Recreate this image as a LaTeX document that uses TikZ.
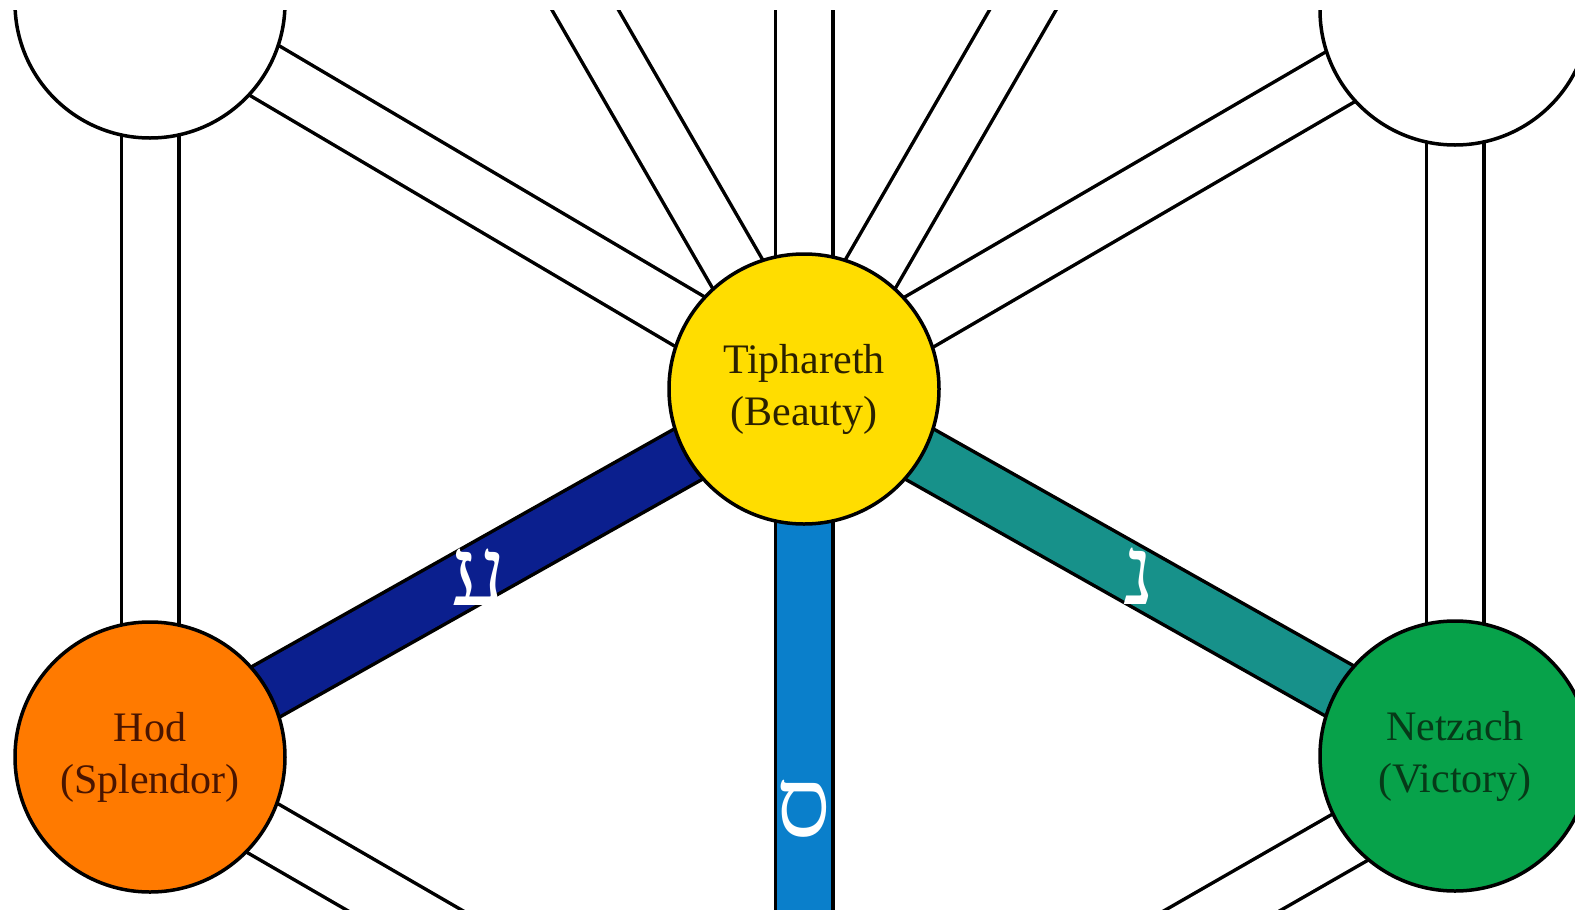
\documentclass[tikz,border=0pt]{standalone}
\usepackage{fontspec}
\setmainfont{Liberation Serif}
\newfontfamily\hebfont[Script=Hebrew]{Liberation Serif}
\TeXXeTstate=1
\definecolor{pnavy}{HTML}{0B1F8E}
\definecolor{pteal}{HTML}{17918A}
\definecolor{pblue}{HTML}{0A7FCB}
\definecolor{syellow}{HTML}{FFDD00}
\definecolor{sorange}{HTML}{FF7A00}
\definecolor{sgreen}{HTML}{07A24A}
\definecolor{ttext}{HTML}{2B2100}
\definecolor{htext}{HTML}{4A1500}
\definecolor{ntext}{HTML}{063A18}
\pgfdeclarelayer{paths}
\pgfsetlayers{paths,main}
\begin{document}
\begin{tikzpicture}[x=0.5pt,y=-0.5pt,
  sefira/.style={circle, draw=black, line width=1.75pt, minimum size=135pt,
    inner sep=0pt, align=center, font=\fontsize{21}{26}\selectfont},
  band/.style={draw=black, line width=1.75pt, double distance=27pt},
  heb/.style={text=white, inner sep=0pt, font=\hebfont\fontsize{48}{48}\selectfont}]
\useasboundingbox (0,0) rectangle (1575,916);

\node[sefira, fill=white] (geb) at (150,3) {};
\node[sefira, fill=white] (ches) at (1455,10) {};
\node[sefira, fill=syellow, text=ttext] (tiph) at (804,389) {Tiphareth\\(Beauty)};
\node[sefira, fill=sorange, text=htext] (hod) at (150,757) {Hod\\(Splendor)};
\node[sefira, fill=sgreen, text=ntext] (netz) at (1455,756) {Netzach\\(Victory)};
\coordinate (yesod) at (812,1146);
\coordinate (kether) at (804,-400);
\coordinate (binah) at (404,-304);
\coordinate (chokmah) at (1204,-304);

\begin{pgfonlayer}{paths}
  \fill[white] (0,0) rectangle (1575,916);
  \draw[band, double=white] (geb.center) -- (hod.center);
  \draw[band, double=white] (ches.center) -- (netz.center);
  \draw[band, double=white] (tiph.center) -- (geb.center);
  \draw[band, double=white] (tiph.center) -- (ches.center);
  \draw[band, double=white] (tiph.center) -- (kether);
  \draw[band, double=white] (tiph.center) -- (binah);
  \draw[band, double=white] (tiph.center) -- (chokmah);
  \draw[band, double=white] ([yshift=-3pt]hod.center) -- (yesod);
  \draw[band, double=white] ([yshift=-10.5pt]netz.center) -- (yesod);
  \draw[band, double=pnavy] (tiph.center) -- node[heb, pos=0.5, yshift=-2pt, xshift=1pt] (ayin) {ע} (hod.center);
  \draw[band, double=pteal] (tiph.center) -- node[heb, pos=0.5, yshift=-2pt, xshift=5pt] (nun) {נ} (netz.center);
  \draw[band, double=pblue] (tiph.center) -- node[heb, pos=0.547, yshift=-3pt] (samekh) {ס} (tiph.center |- yesod);
\end{pgfonlayer}

\fill[white] (0,0) rectangle (1575,10);
\fill[white] (0,910) rectangle (1575,916);
\end{tikzpicture}
\end{document}
